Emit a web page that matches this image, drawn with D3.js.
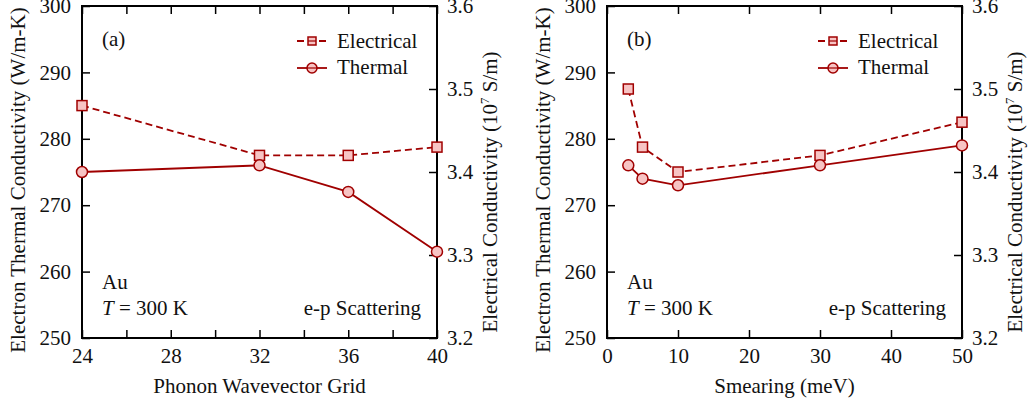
<!DOCTYPE html>
<html>
<head>
<meta charset="utf-8">
<script src="https://cdn.jsdelivr.net/npm/d3@7/dist/d3.min.js"></script>
<style>
  body { margin: 0; background: #fff; overflow: hidden; }
  svg { display: block; }
  svg text { font-family: "Liberation Serif", "DejaVu Serif", serif; fill: #111; }
</style>
</head>
<body>
<div id="chart"></div>
<script>
(function () {
  'use strict';

  // panel (a): phonon wavevector grid
  var gridX = [24, 32, 36, 40],
      gridElectrical = [3.48, 3.42, 3.42, 3.43],
      gridThermal = [275, 276, 272, 263],
      gridTicks = [24, 26, 28, 30, 32, 34, 36, 38, 40],
      gridLabels = [24, 28, 32, 36, 40];

  // panel (b): smearing
  var smearX = [3, 5, 10, 30, 50],
      smearElectrical = [3.50, 3.43, 3.40, 3.42, 3.46],
      smearThermal = [276, 274, 273, 276, 279],
      smearTicks = [0, 10, 20, 30, 40, 50],
      smearLabels = [0, 10, 20, 30, 40, 50];

  var thermalTicks = [250, 260, 270, 280, 290, 300],
      electricalTicks = [3.2, 3.3, 3.4, 3.5, 3.6];

  var W = 1029, H = 406,
      red = '#a00000',
      pink = '#f7c4c4',
      fs = 21,
      tick = 8;

  var svg = d3.select('#chart').append('svg')
    .attr('width', W).attr('height', H)
    .attr('font-family', '"Liberation Serif", serif');

  function panel(o) {
    var left = o.left, right = o.left + 355, top = 6, bottom = 338;

    var x = d3.scaleLinear().domain(o.xDomain).range([left, right]);
    var yL = d3.scaleLinear().domain([250, 300]).range([bottom, top]);
    var yR = d3.scaleLinear().domain([3.2, 3.6]).range([bottom, top]);

    var g = svg.append('g');

    function style(a) {
      a.attr('font-family', null).attr('font-size', null);
      a.select('.domain').remove();
      a.selectAll('line').attr('stroke', '#000').attr('stroke-width', 1.5);
      a.selectAll('text').attr('font-size', fs).attr('fill', '#111');
    }

    g.append('g').attr('transform', 'translate(0,' + bottom + ')')
      .call(d3.axisBottom(x).tickValues(o.ticks).tickSize(-tick).tickPadding(10)
        .tickFormat(function (d) { return o.labels.indexOf(d) >= 0 ? d : ''; }))
      .call(style);

    g.append('g').attr('transform', 'translate(0,' + top + ')')
      .call(d3.axisTop(x).tickValues(o.ticks).tickSize(-tick).tickFormat(''))
      .call(style);

    g.append('g').attr('transform', 'translate(' + left + ',0)')
      .call(d3.axisLeft(yL).tickValues(thermalTicks).tickSize(-tick).tickPadding(11))
      .call(style);

    g.append('g').attr('transform', 'translate(' + right + ',0)')
      .call(d3.axisRight(yR).tickValues(electricalTicks).tickSize(-tick).tickPadding(10)
        .tickFormat(d3.format('.1f')))
      .call(style);

    g.append('rect')
      .attr('x', left).attr('y', top)
      .attr('width', right - left).attr('height', bottom - top)
      .attr('fill', 'none').attr('stroke', '#000').attr('stroke-width', 2);

    // axis titles
    g.append('text')
      .attr('transform', 'translate(' + (left - 57) + ',' + 180 + ') rotate(-90)')
      .attr('text-anchor', 'middle').attr('font-size', fs)
      .text('Electron Thermal Conductivity (W/m-K)');

    var rt = g.append('text')
      .attr('transform', 'translate(' + (right + 60) + ',' + 192 + ') rotate(-90)')
      .attr('text-anchor', 'middle').attr('font-size', fs);
    rt.append('tspan').text('Electrical Conductivity (10');
    rt.append('tspan').attr('font-size', 13).attr('dy', -8).text('7');
    rt.append('tspan').attr('dy', 8).text(' S/m)');

    g.append('text')
      .attr('x', (left + right) / 2).attr('y', 393)
      .attr('text-anchor', 'middle').attr('font-size', fs)
      .text(o.xTitle);

    // series
    var elec = o.x.map(function (d, i) { return {x: d, y: o.elec[i]}; });
    var therm = o.x.map(function (d, i) { return {x: d, y: o.therm[i]}; });

    g.append('path')
      .attr('d', d3.line().x(function (d) { return x(d.x); }).y(function (d) { return yR(d.y); })(elec))
      .attr('fill', 'none').attr('stroke', red).attr('stroke-width', 1.8)
      .attr('stroke-dasharray', '7,4');

    g.append('path')
      .attr('d', d3.line().x(function (d) { return x(d.x); }).y(function (d) { return yL(d.y); })(therm))
      .attr('fill', 'none').attr('stroke', red).attr('stroke-width', 1.8);

    g.selectAll('rect.sq').data(elec).enter().append('rect')
      .attr('class', 'sq')
      .attr('x', function (d) { return x(d.x) - 5; })
      .attr('y', function (d) { return yR(d.y) - 5; })
      .attr('width', 10).attr('height', 10)
      .attr('fill', pink).attr('stroke', red).attr('stroke-width', 1.5);

    g.selectAll('circle.ci').data(therm).enter().append('circle')
      .attr('class', 'ci')
      .attr('cx', function (d) { return x(d.x); })
      .attr('cy', function (d) { return yL(d.y); })
      .attr('r', 5.5)
      .attr('fill', pink).attr('stroke', red).attr('stroke-width', 1.5);

    // legend
    var lx = o.legendX;
    g.append('line').attr('x1', lx).attr('x2', lx + 30).attr('y1', 41).attr('y2', 41)
      .attr('stroke', red).attr('stroke-width', 1.8).attr('stroke-dasharray', '7,4');
    g.append('rect').attr('x', lx + 11).attr('y', 37).attr('width', 8).attr('height', 8)
      .attr('fill', pink).attr('stroke', red).attr('stroke-width', 1.5);
    g.append('line').attr('x1', lx + 11).attr('x2', lx + 19).attr('y1', 41).attr('y2', 41)
      .attr('stroke', red).attr('stroke-width', 1.2);
    g.append('text').attr('x', lx + 40).attr('y', 48).attr('font-size', fs).text('Electrical');

    g.append('line').attr('x1', lx).attr('x2', lx + 30).attr('y1', 68).attr('y2', 68)
      .attr('stroke', red).attr('stroke-width', 1.8);
    g.append('circle').attr('cx', lx + 15).attr('cy', 68).attr('r', 5)
      .attr('fill', pink).attr('stroke', red).attr('stroke-width', 1.5);
    g.append('line').attr('x1', lx + 10).attr('x2', lx + 20).attr('y1', 68).attr('y2', 68)
      .attr('stroke', red).attr('stroke-width', 1.2);
    g.append('text').attr('x', lx + 40).attr('y', 74).attr('font-size', fs).text('Thermal');

    // annotations
    g.append('text').attr('x', left + 20).attr('y', 46).attr('font-size', fs).text(o.tag);
    g.append('text').attr('x', left + 20).attr('y', 289).attr('font-size', fs).text('Au');
    var t = g.append('text').attr('x', left + 20).attr('y', 315).attr('font-size', fs);
    t.append('tspan').attr('font-style', 'italic').text('T');
    t.append('tspan').text(' = 300 K');
    g.append('text').attr('x', right - 16).attr('y', 315).attr('font-size', fs)
      .attr('text-anchor', 'end').text('e-p Scattering');
  }

  panel({
    left: 82, xDomain: [24, 40], ticks: gridTicks, labels: gridLabels,
    x: gridX, elec: gridElectrical, therm: gridThermal,
    xTitle: 'Phonon Wavevector Grid', tag: '(a)', legendX: 297
  });

  panel({
    left: 607, xDomain: [0, 50], ticks: smearTicks, labels: smearLabels,
    x: smearX, elec: smearElectrical, therm: smearThermal,
    xTitle: 'Smearing (meV)', tag: '(b)', legendX: 818
  });
}());
</script>
</body>
</html>
